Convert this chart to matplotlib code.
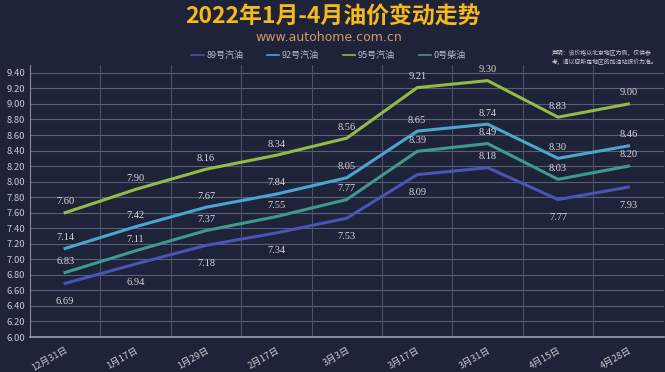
import numpy as np
import matplotlib
matplotlib.use('Agg')
import matplotlib.pyplot as plt

plt.rcParams['font.family'] = ['Noto Sans CJK SC', 'DejaVu Sans']

# 数据
dates = ['12月31日', '1月17日', '1月29日', '2月17日', '3月3日', '3月17日', '3月31日', '4月15日', '4月28日']
p89 = [6.69, 6.94, 7.18, 7.34, 7.53, 8.09, 8.18, 7.77, 7.93]
p92 = [7.14, 7.42, 7.67, 7.84, 8.05, 8.65, 8.74, 8.30, 8.46]
p95 = [7.60, 7.90, 8.16, 8.34, 8.56, 9.21, 9.30, 8.83, 9.00]
p0 = [6.83, 7.11, 7.37, 7.55, 7.77, 8.39, 8.49, 8.03, 8.20]
names = ['89号汽油', '92号汽油', '95号汽油', '0号柴油']
yticks = np.arange(6.0, 9.41, 0.2)

bg = '#1f2339'
fig = plt.figure(figsize=(6.65, 3.72), dpi=100, facecolor=bg)
ax = fig.add_axes([0.045, 0.094, 0.953, 0.731], facecolor=bg)

x = np.arange(len(dates))
series = [
    (p89, '#4b53b3', 'below'),
    (p92, '#4aa6cf', 'above'),
    (p95, '#93bb45', 'above'),
    (p0, '#3a9c8c', 'above'),
]
for (vals, col, pos), nm in zip(series, names):
    ax.plot(x, vals, color=col, lw=2.2, label=nm, zorder=3, solid_joinstyle='miter')
    for i, v in enumerate(vals):
        if pos == 'below' and i != 6:
            dy = -13
        else:
            dy = 8
        ax.annotate('%.2f' % v, (i, v), xytext=(0, dy), textcoords='offset points',
                    ha='center', va='center', color='#d8d8d8', fontsize=7.5,
                    family='Liberation Serif', zorder=4)

ax.set_xlim(-0.5, len(dates) - 0.5)
ax.set_ylim(6.0, 9.5)
ax.set_yticks(yticks)
ax.set_yticklabels(['%.2f' % t for t in yticks])
ax.set_xticks(x)
ax.set_xticklabels(dates, rotation=30, ha='right', rotation_mode='anchor')
ax.grid(False)
for t in yticks[1:]:
    ax.axhline(t, color='#5a5f78', lw=0.8, zorder=1)
for t in np.arange(0.5, len(dates) - 0.5, 1):
    ax.axvline(t, color='#4d526c', lw=0.8, zorder=1)
ax.tick_params(axis='both', colors='#c8c8d0', labelsize=6.8, length=0)
ax.tick_params(axis='x', pad=6)
for s in ['top', 'right']:
    ax.spines[s].set_visible(False)
ax.spines['left'].set_color('#8a8ea0')
ax.spines['bottom'].set_color('#9a9eb0')
ax.spines['bottom'].set_linewidth(1.2)

fig.text(0.5, 0.955, '2022年1月-4月油价变动走势', ha='center', va='center',
         color='#f5b91a', fontsize=16.5, fontweight='bold')
fig.text(0.494, 0.898, 'www.autohome.com.cn', ha='center', va='center',
         color='#cf9a6a', fontsize=9, family='DejaVu Sans')
leg = fig.legend(loc='center', bbox_to_anchor=(0.494, 0.85), ncol=4, frameon=False,
                 fontsize=6.5, handlelength=1.4, handletextpad=0.3, columnspacing=2.6,
                 labelcolor='#b8bccc')
for h in leg.get_lines():
    h.set_linewidth(1.2)
fig.text(0.83, 0.845, '声明：该价格以北京地区为例，仅供参\n考，请以您所在地区的加油站报价为准。',
         ha='left', va='center', color='#d0d0d8', fontsize=4.2, linespacing=1.5)

fig.savefig('out.png', dpi=100, facecolor=bg)
